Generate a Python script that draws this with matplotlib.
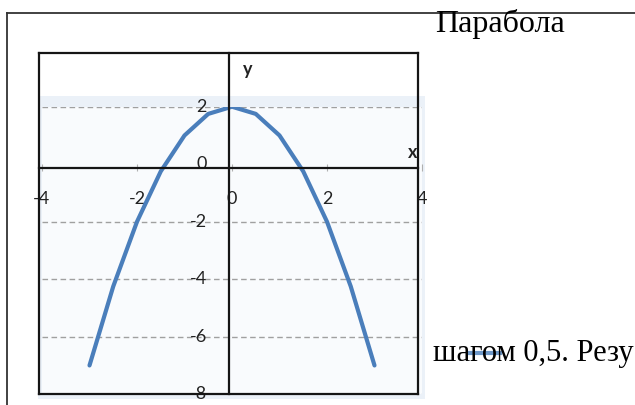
import matplotlib
matplotlib.use("Agg")
import matplotlib.pyplot as plt
from matplotlib.lines import Line2D
from matplotlib.patches import Rectangle

# parabola y = 2 - x^2, step 0.5
x_vals = [-3, -2.5, -2, -1.5, -1, -0.5, 0, 0.5, 1, 1.5, 2, 2.5, 3]
y_vals = [-7, -4.25, -2, -0.25, 1, 1.75, 2, 1.75, 1, -0.25, -2, -4.25, -7]
x_ticks = [-4, -2, 0, 2, 4]
y_ticks = [-8, -6, -4, -2, 0, 2]

title_text = "Парабола"
body_text = "шагом 0,5. Резу"

W, H = 635, 405
plt.rcParams['axes.unicode_minus'] = False

fig = plt.figure(figsize=(W / 100, H / 100), dpi=100)
fig.patch.set_facecolor("white")

def fx(px):
    return px / W

def fy(py):
    return 1 - py / H

# chart area background (pasted picture)
fig.patches.append(Rectangle((fx(38), fy(399)), fx(425) - fx(38), fy(96) - fy(399),
                             transform=fig.transFigure, facecolor="#ebf1f8",
                             edgecolor="none", zorder=-5))

ax = fig.add_axes([fx(42), fy(394.2), fx(422) - fx(42), fy(106.7) - fy(394.2)])
ax.set_facecolor("#f9fbfd")
ax.set_xlim(-4, 4)
ax.set_ylim(-8, 2)

# gridlines (the one at 0 sits under the table line)
for yv in y_ticks:
    if yv != 0:
        ax.axhline(yv, color="#a0a0a0", lw=1, ls=(0, (4, 2.5)), zorder=1)

ax.plot(x_vals, y_vals, color="#4a7ebb", lw=3, solid_capstyle="round",
        solid_joinstyle="round", zorder=3)

ax.spines['left'].set_position(('data', 0))
ax.spines['bottom'].set_position(('data', 0))
for s in ax.spines.values():
    s.set_color("none")

ax.set_xticks(x_ticks)
ax.set_yticks(y_ticks)
ax.set_xticklabels([str(v) for v in x_ticks], fontfamily="Lato", fontsize=13, color="#222222")
ax.set_yticklabels([str(v) for v in y_ticks], fontfamily="Lato", fontsize=13, color="#222222")
ax.tick_params(axis='x', direction='out', length=5, color="#b0b0b0", pad=14)
ax.tick_params(axis='y', length=0, pad=18)
for lbl in ax.get_yticklabels():
    lbl.set_verticalalignment("center")

# axis names
fig.text(fx(413), fy(152), "x", fontfamily="Lato", fontsize=13, fontweight="bold",
         color="#222222", ha="center", va="center")
fig.text(fx(248), fy(70), "y", fontfamily="Lato", fontsize=13, fontweight="bold",
         color="#222222", ha="center", va="center")

# table lines over the chart
lines = [
    ((39, 418), (53, 53)),
    ((39, 418), (394, 394)),
    ((39, 39), (53, 394)),
    ((418, 418), (53, 394)),
    ((229, 229), (53, 394)),
    ((39, 418), (168, 168)),
]
for (x0, x1), (y0, y1) in lines:
    fig.lines.append(Line2D([fx(x0), fx(x1)], [fy(y0), fy(y1)], transform=fig.transFigure,
                            color="#151515", lw=1.6, zorder=10))

# page frame
fig.lines.append(Line2D([fx(7), fx(635)], [fy(13), fy(13)], transform=fig.transFigure,
                        color="#333333", lw=1.3, zorder=10))
fig.lines.append(Line2D([fx(7), fx(7)], [fy(13), fy(405)], transform=fig.transFigure,
                        color="#333333", lw=1.3, zorder=10))

# legend line peeking through the text
fig.lines.append(Line2D([fx(470), fx(500)], [fy(353), fy(353)], transform=fig.transFigure,
                        color="#4a7ebb", lw=3, alpha=0.8, zorder=5))

fig.text(fx(435), fy(32), title_text, fontfamily="Liberation Serif", fontsize=23,
         color="black", ha="left", va="baseline", zorder=11)
fig.text(fx(433), fy(361), body_text, fontfamily="Liberation Serif", fontsize=22,
         color="black", ha="left", va="baseline", zorder=11)

fig.savefig("out.png", dpi=100)
